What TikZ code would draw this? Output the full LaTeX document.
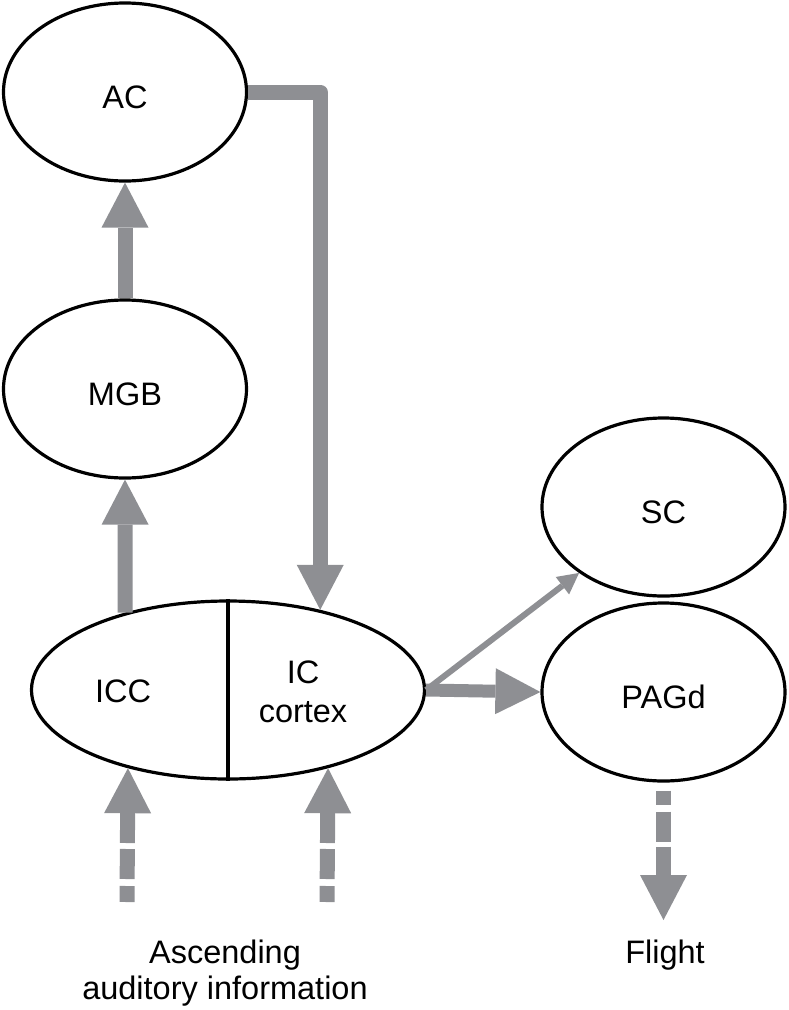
\documentclass[tikz,border=0pt]{standalone}
\usepackage{fontspec}
\setmainfont{Liberation Sans}
\usetikzlibrary{arrows.meta,shapes.geometric}
\definecolor{agray}{RGB}{142,143,147}
\begin{document}
\begin{tikzpicture}[x=1pt,y=-1pt,
  region/.style={ellipse,draw=black,line width=3.2pt,inner sep=0pt,
    minimum width=243pt,minimum height=178pt,
    font=\fontsize{32.5}{38}\selectfont,text height=33pt,text depth=0pt},
  lbl/.style={inner sep=0pt,align=center},
  bigarrow/.style={draw=agray,line width=15pt,
    -{Triangle[length=45pt,width=47pt,line width=0pt]}},
  midarrow/.style={draw=agray,line width=13pt,
    -{Triangle[length=45pt,width=46pt,line width=0pt]}},
  thinarrow/.style={draw=agray,line width=6pt,
    -{Triangle[length=21pt,width=22pt,line width=0pt]}}]
\useasboundingbox (0,0) rectangle (788,1010);

% regions
\node[region] (ac) at (125,92) {AC};
\node[region] (mgb) at (125,389) {MGB};
\node[region,minimum width=393pt] (ic) at (228,690) {};
\node[region] (sc) at (663.5,507) {SC};
\node[region] (pagd) at (663.5,692) {PAGd};
\draw[line width=3.2pt] (ic.north) -- (ic.south);
\node[lbl,font=\fontsize{32.5}{38}\selectfont] (icc) at (123,691.5) {ICC};
\node[lbl,font=\fontsize{32.5}{38.4}\selectfont] (icx) at (303,692) {IC\\cortex};

% free ends
\coordinate (a1) at (127,902);
\coordinate (a2) at (327,902);
\coordinate (fl) at (663.5,920);

% connectors
\draw[bigarrow] (mgb.north) -- (ac.south);
\draw[bigarrow] (ic.143.1) -- (mgb.south);
\draw[bigarrow,line join=round] (ac.east) -| (ic.41.8);
\draw[bigarrow,dash pattern=on 16pt off 7pt on 30pt off 6pt on 300pt] (a1) -- (ic.-142.35);
\draw[bigarrow,dash pattern=on 16pt off 7pt on 30pt off 6pt on 300pt] (a2) -- (ic.-38.4);
\draw[midarrow] (ic.east) -- (pagd.west);
\draw[thinarrow] (ic.east) -- (sc.-142.65);
\draw[bigarrow,shorten <=8pt,dash pattern=on 14pt off 7pt on 30pt off 5pt on 300pt] (pagd.south) -- (fl);

% labels
\node[lbl,font=\fontsize{32.5}{36}\selectfont] (asc) at (225,973) {Ascending\\auditory information};
\node[lbl,font=\fontsize{32.5}{38}\selectfont] (flight) at (665,955) {Flight};
\end{tikzpicture}
\end{document}
